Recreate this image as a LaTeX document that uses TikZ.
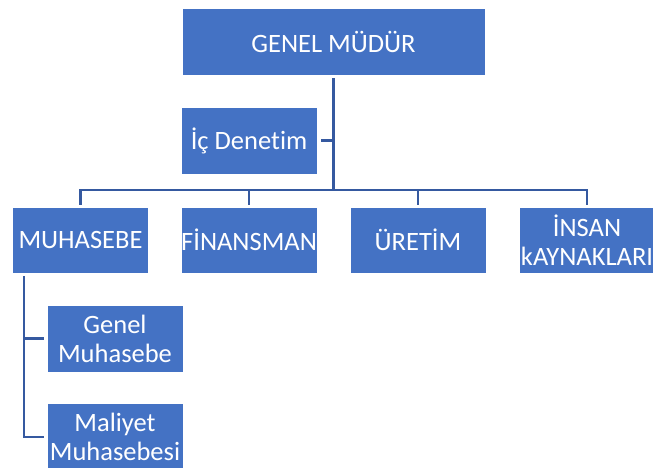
\documentclass[tikz,border=0pt]{standalone}
\usepackage{fontspec}
\setmainfont{Carlito}[Ligatures=NoCommon]
\definecolor{boxblue}{HTML}{4472C4}
\definecolor{lineblue}{HTML}{3559A0}
\begin{document}
\begin{tikzpicture}[x=1pt,y=-1pt,
  orgbox/.style={rectangle, fill=boxblue, draw=white, line width=0.6pt, text=white,
    minimum width=136pt, minimum height=66pt, inner sep=0pt, align=center,
    font=\fontsize{26.5}{29}\selectfont},
  conn/.style={draw=lineblue, line width=2.5pt}]
\useasboundingbox (0,0) rectangle (653,468);
\node[orgbox, minimum width=303pt, minimum height=67pt] (gm) at (333.5,41.5) {GENEL MÜDÜR};
\node[orgbox, minimum height=67pt] (ic) at (249,140.5) {İç Denetim};
\node[orgbox] (muh) at (80.5,240) {MUHASEBE};
\node[orgbox] (fin) at (249,240) {FİNANSMAN};
\node[orgbox] (ure) at (418,240) {ÜRETİM};
\node[orgbox] (ik) at (587,240) {İNSAN\\kAYNAKLARI};
\node[orgbox, minimum height=67pt] (gmh) at (115,338.5) {Genel\\Muhasebe};
\node[orgbox, minimum height=67pt] (mal) at (115,437) {Maliyet\\Muhasebesi};
\coordinate (bus) at (333.5,190);
\coordinate (mv) at (24,276);
\draw[conn, shorten <=3pt] (gm.south) -- (bus);
\draw[conn, shorten <=4pt] (ic.east) -- (ic.east -| bus);
\draw[conn, shorten <=2pt, shorten >=2pt] (muh.north) |- (bus) -| (ik.north);
\draw[conn, shorten <=2pt] (fin.north) -- (fin.north |- bus);
\draw[conn, shorten <=2pt] (ure.north) -- (ure.north |- bus);
\draw[conn, shorten >=3pt] (mv) |- (mal.west);
\draw[conn, shorten >=3pt] (mv |- gmh.west) -- (gmh.west);
\end{tikzpicture}
\end{document}
